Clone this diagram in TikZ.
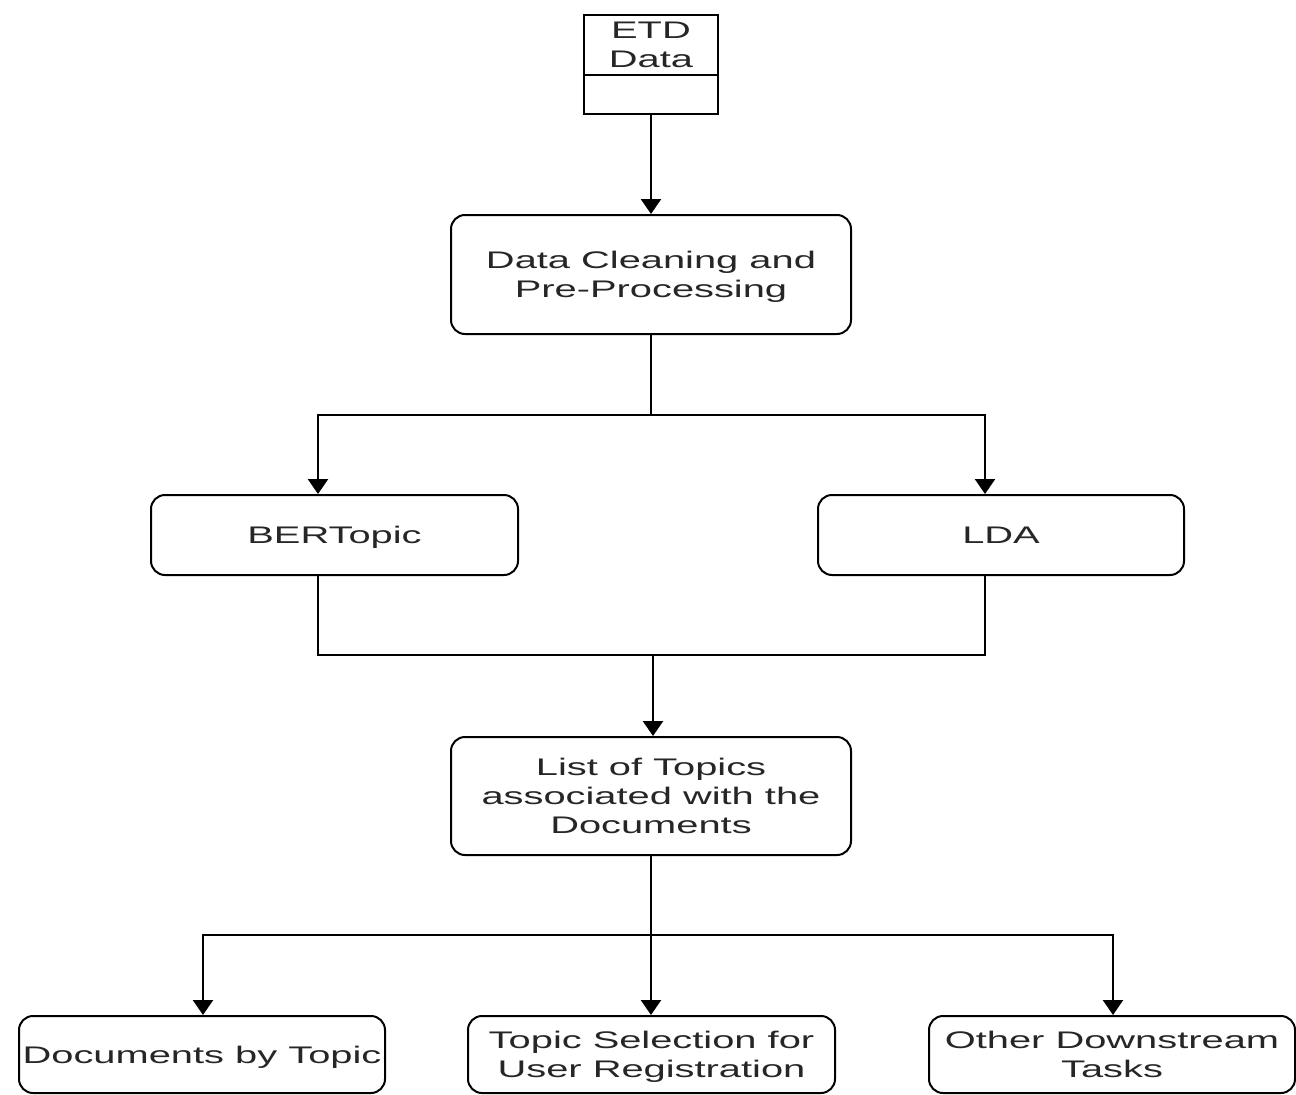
\documentclass[tikz,border=0pt]{standalone}
\usepackage{fontspec}
\setmainfont[FakeStretch=1.66]{Liberation Sans}
\usetikzlibrary{arrows.meta}
\begin{document}
\begin{tikzpicture}[x=1pt,y=-1pt,
  every node/.style={font=\fontsize{24}{29}\selectfont, text=black!85, align=center, inner sep=0pt},
  flowbox/.style={draw=black, line width=2pt, rounded corners=14pt, text depth=0pt},
  plainbox/.style={draw=black, line width=2pt},
  conn/.style={draw=black, line width=2.4pt},
  arrow/.style={conn, -{Triangle[width=20pt,length=15pt]}}]
\useasboundingbox (0,0) rectangle (1296,1095);

% input store
\node[plainbox, minimum width=134pt, minimum height=99pt] (etd) at (651,64.5) {};
\node (etdtext) at (651,45) {ETD\\Data};
\draw[line width=2pt] (etd.west |- 0,75) -- (etd.east |- 0,75);

% processing steps
\node[flowbox, minimum width=400pt, minimum height=119pt] (clean) at (651,274.5) {Data Cleaning and\\Pre-Processing};
\node[flowbox, minimum width=367pt, minimum height=80pt] (bert) at (334.5,535) {BERTopic};
\node[flowbox, minimum width=366pt, minimum height=80pt] (lda) at (1001,535) {LDA};
\node[flowbox, minimum width=400pt, minimum height=118pt] (topics) at (651,796) {List of Topics\\associated with the\\Documents};

% outputs
\node[flowbox, minimum width=366pt, minimum height=77pt] (docs) at (202,1054.5) {Documents by Topic};
\node[flowbox, minimum width=367pt, minimum height=77pt] (select) at (651.5,1054.5) {Topic Selection for\\User Registration};
\node[flowbox, minimum width=366pt, minimum height=77pt] (other) at (1112,1054.5) {Other Downstream\\Tasks};

% junction points
\coordinate (split) at (651,415);
\coordinate (merge) at (653,655);
\coordinate (fan) at (651,935);

% connectors
\draw[arrow] (etd.south) -- (clean.north);
\draw[conn] (clean.south) -- (split);
\draw[arrow] (split) -| (bert.north -| 318,0);
\draw[arrow] (split) -| (lda.north -| 985,0);
\draw[conn] (bert.south -| 318,0) |- (merge) -| (lda.south -| 985,0);
\draw[arrow] (merge) -- (topics.north -| merge);
\draw[conn] (topics.south) -- (fan);
\draw[arrow] (fan) -| (docs.north -| 203,0);
\draw[arrow] (fan) -- (select.north -| fan);
\draw[arrow] (fan) -| (other.north -| 1113,0);
\end{tikzpicture}
\end{document}
